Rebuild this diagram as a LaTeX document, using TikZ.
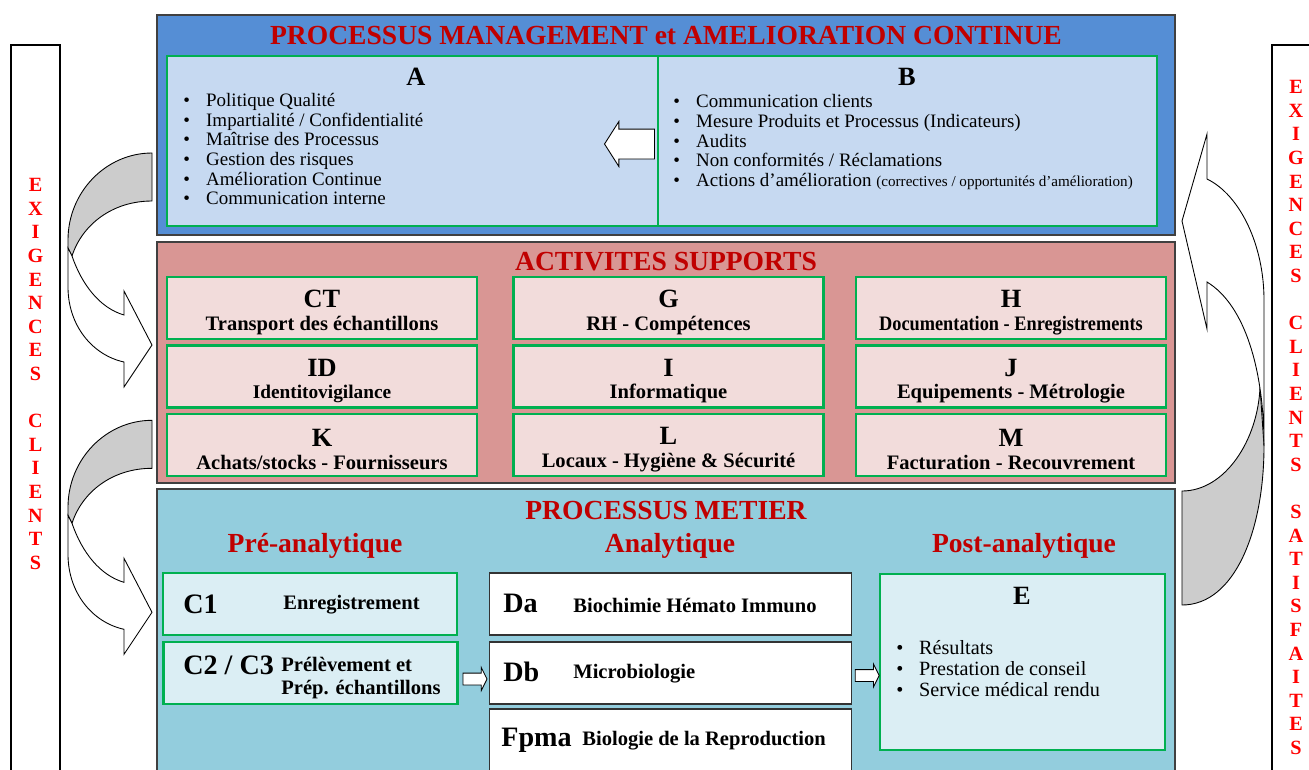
\documentclass[tikz,border=0pt]{standalone}
\usepackage{fontspec}
\setmainfont{Liberation Serif}
\usepackage{graphicx}
\usetikzlibrary{shapes.arrows,positioning,calc}

\definecolor{mgmtblue}{HTML}{558ED5}
\definecolor{mgmtfill}{HTML}{C6D9F1}
\definecolor{suppred}{HTML}{D99694}
\definecolor{suppfill}{HTML}{F2DCDB}
\definecolor{metiercyan}{HTML}{93CDDD}
\definecolor{metierfill}{HTML}{DBEEF4}
\definecolor{boxgreen}{HTML}{00B050}
\definecolor{titlered}{HTML}{C00000}
\definecolor{arrowgray}{HTML}{CCCCCC}

\newcommand{\bul}{\makebox[13pt][l]{\textbullet}}
\newcommand{\biglet}[1]{\rule{0pt}{15pt}{\fontsize{15}{15}\selectfont #1}}

\begin{document}
\begin{tikzpicture}[x=0.02cm, y=-0.02cm]
\tikzstyle{panel}=[rectangle, draw=black!75, line width=0.8pt, minimum width=20.36cm, inner sep=0mm]
\tikzstyle{ptitle}=[text=titlered, font=\fontsize{15.7}{16}\selectfont\bfseries, inner sep=0mm]
\tikzstyle{greenbox}=[rectangle, draw=boxgreen, line width=1.2pt, inner sep=0mm]
\tikzstyle{supbox}=[greenbox, fill=suppfill, minimum width=6.2cm, minimum height=1.24cm, align=center, font=\fontsize{11.7}{13}\selectfont\bfseries]
\tikzstyle{prebox}=[greenbox, fill=metierfill, minimum width=5.88cm, minimum height=1.24cm]
\tikzstyle{anabox}=[rectangle, draw=black!80, line width=0.6pt, fill=white, minimum width=7.26cm, minimum height=1.24cm]
\tikzstyle{bigtag}=[anchor=west, inner sep=0mm, font=\fontsize{16}{16}\selectfont\bfseries]
\tikzstyle{smalltag}=[anchor=west, inner sep=0mm, align=left, font=\fontsize{11.7}{13}\selectfont\bfseries]
\tikzstyle{sidebox}=[rectangle, draw=black, line width=0.8pt, fill=white, minimum width=0.98cm, minimum height=15cm]
\tikzstyle{sidechar}=[text=red, font=\fontsize{11.5}{12}\selectfont\bfseries, inner sep=0mm]
\tikzstyle{bullets}=[align=left, anchor=north west, inner sep=0mm, font=\fontsize{10.8}{11.2}\selectfont]
\tikzstyle{blockarrow}=[single arrow, draw=black, line width=0.5pt, fill=white, inner xsep=0mm, single arrow head indent=0mm]
\tikzstyle{curve}=[draw=black, line width=0.5pt]

\useasboundingbox (0,0) rectangle (1309,769);
\clip (0,0) rectangle (1309,769);

% client requirements on both sides
\node[sidebox] at (35.5,420) (lside) {};
\node[sidebox, minimum width=1.16cm] at (1301,420) (rside) {};
\foreach \ch [count=\i] in {E,X,I,G,E,N,C,E,S,{},C,L,I,E,N,T,S}
  \node[sidechar] at (35.5,{185+(\i-1)*23.6}) (lch\i) {\ch};
\foreach \ch [count=\i] in {E,X,I,G,E,N,C,E,S,{},C,L,I,E,N,T,S,{},S,A,T,I,S,F,A,I,T,E,S}
  \node[sidechar] at (1296,{87+(\i-1)*23.6}) (rch\i) {\ch};

% curved arrows, left
\foreach \dy in {0,267.3} {
\begin{scope}[shift={(0,\dy)}]
\draw[curve, fill=arrowgray] (152,153) .. controls (106,153) and (68,192) .. (68,240) -- (68,248) -- (72,256) .. controls (82,225) and (112,201) .. (152,201) -- cycle;
\draw[curve, fill=white] (72,256) .. controls (82,285) and (100,308) .. (124,315) -- (124,291) -- (152,345) -- (124,387) -- (124,362) .. controls (92,355) and (68,325) .. (68,287) -- (68,248) -- cycle;
\end{scope}
}
% curved arrow, right
\draw[curve, fill=arrowgray] (1182,491) .. controls (1225,491) and (1258,440) .. (1260,387) -- (1264,446) .. controls (1264,530) and (1235,605) .. (1182,605) -- cycle;
\draw[curve, fill=white] (1264,446) -- (1264,300) .. controls (1264,245) and (1240,195) .. (1207,179) -- (1207,134) -- (1182,221) -- (1207,329) -- (1207,282) .. controls (1245,305) and (1264,370) .. (1264,446) -- cycle;

% management
\node[panel, fill=mgmtblue, minimum height=4.4cm] at (666,125) (mgmt) {};
\node[ptitle] at (666,35) (mgmttitle) {PROCESSUS MANAGEMENT et AMELIORATION CONTINUE};
\node[greenbox, fill=mgmtfill, minimum width=9.82cm, minimum height=3.4cm] at (412.5,141) (boxA) {};
\node[greenbox, fill=mgmtfill, minimum width=9.98cm, minimum height=3.4cm] at (907.5,141) (boxB) {};
\node[font=\fontsize{15}{15}\selectfont\bfseries, inner sep=0mm] at (416,77) (tagA) {A};
\node[font=\fontsize{15}{15}\selectfont\bfseries, inner sep=0mm] at (907,77) (tagB) {B};
\node[bullets] at (183,93) (listA) {\bul Politique Qualité\\ \bul Impartialité / Confidentialité\\ \bul Maîtrise des Processus\\ \bul Gestion des risques\\ \bul Amélioration Continue\\ \bul Communication interne};
\node[bullets, font=\fontsize{10.8}{11.25}\selectfont] at (673,94) (listB) {\bul Communication clients\\ \bul Mesure Produits et Processus (Indicateurs)\\ \bul Audits\\ \bul Non conformités / Réclamations\\ \bul Actions d’amélioration {\fontsize{8.6}{11.2}\selectfont (correctives / opportunités d’amélioration)}};
\node[blockarrow, shape border rotate=180, minimum height=1.0cm, inner ysep=0.29cm, single arrow head extend=0.15cm, single arrow tip angle=115, anchor=tip] at (604,144) (feedback) {};

% supports
\node[panel, fill=suppred, minimum height=4.82cm] at (666,362.5) (supp) {};
\node[ptitle] at (666,262) (supptitle) {ACTIVITES SUPPORTS};
\node[supbox] at (322,308) (transport) {\biglet{CT}\\ Transport des échantillons};
\node[supbox] at (668.5,308) (rh) {\biglet{G}\\ RH - Compétences};
\node[supbox] at (1011,308) (docs) {\biglet{H}\\ \scalebox{0.89}[1]{Documentation - Enregistrements}};
\node[supbox] at (322,376.5) (identito) {\biglet{ID}\\ {\fontsize{11}{13}\selectfont Identitovigilance}};
\node[supbox] at (668.5,376.5) (info) {\biglet{I}\\ Informatique};
\node[supbox] at (1011,376.5) (equip) {\biglet{J}\\ Equipements - Métrologie};
\node[supbox] at (322,445) (achats) {\biglet{K}\\ Achats/stocks - Fournisseurs};
\node[supbox] at (668.5,445) (locaux) {\biglet{L}\\ Locaux - Hygiène \& Sécurité};
\node[supbox] at (1011,445) (factu) {\biglet{M}\\ Facturation - Recouvrement};

% metier
\node[panel, fill=metiercyan, minimum height=6.4cm] at (666,649) (metier) {};
\node[ptitle] at (666,510) (metiertitle) {PROCESSUS METIER};
\node[ptitle] at (315,546) (pre) {Pré-analytique};
\node[ptitle] at (670,546) (ana) {Analytique};
\node[ptitle] at (1024,546) (post) {Post-analytique};

\node[prebox] at (310,604) (c1) {};
\node[bigtag] at (183,604) (c1tag) {C1};
\node[smalltag] at (283,605) (c1txt) {Enregistrement};
\node[prebox] at (310.5,673) (c23) {};
\node[bigtag] at (183,665) (c23tag) {C2 / C3};
\node[smalltag] at (281,678) (c23txt) {Prélèvement et\\Prép. échantillons};

\node[anabox] at (670.5,604) (da) {};
\node[bigtag] at (503,603) (datag) {Da};
\node[smalltag] at (573,605) (datxt) {Biochimie Hémato Immuno};
\node[anabox] at (670.5,673) (db) {};
\node[bigtag] at (503,672) (dbtag) {Db};
\node[smalltag] at (573,674) (dbtxt) {Microbiologie};
\node[anabox, minimum height=1.32cm] at (670.5,742) (fpma) {};
\node[bigtag] at (501,740) (fpmatag) {Fpma};
\node[smalltag] at (582,741) (fpmatxt) {Biologie de la Reproduction};

\node[greenbox, fill=metierfill, minimum width=5.7cm, minimum height=3.52cm] at (1022.5,662) (boxE) {};
\node[font=\fontsize{15}{15}\selectfont\bfseries, inner sep=0mm] at (1022,596) (tagE) {E};
\node[bullets, font=\fontsize{11.5}{12.1}\selectfont] at (896,640) (listE) {\bul Résultats\\ \bul Prestation de conseil\\ \bul Service médical rendu};

\node[blockarrow, minimum height=0.48cm, inner ysep=0.11cm, single arrow head extend=0.11cm, single arrow tip angle=127] at ($(c23.east)!0.5!(db.west)+(0,6)$) (toana) {};
\node[blockarrow, minimum height=0.48cm, inner ysep=0.11cm, single arrow head extend=0.11cm, single arrow tip angle=127] at ($(db.east)!0.5!(boxE.west)+(0,8)$) (topost) {};
\end{tikzpicture}
\end{document}
